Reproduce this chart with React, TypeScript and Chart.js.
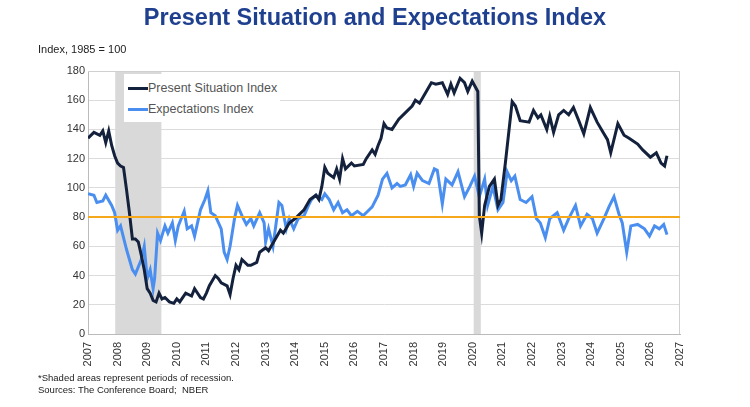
import React, { useEffect, useRef } from "react";
import { Chart, registerables } from "chart.js";
Chart.register(...registerables);

const psiX = [2007.0,2007.2,2007.4,2007.5,2007.6,2007.7,2007.8,2007.9,2008.0,2008.1,2008.2,2008.3,2008.4,2008.5,2008.6,2008.7,2008.8,2008.9,2009.0,2009.1,2009.2,2009.3,2009.4,2009.5,2009.6,2009.75,2009.9,2010.0,2010.1,2010.3,2010.5,2010.6,2010.8,2010.9,2011.0,2011.1,2011.3,2011.4,2011.5,2011.7,2011.8,2011.9,2012.0,2012.1,2012.2,2012.4,2012.5,2012.7,2012.8,2013.0,2013.1,2013.3,2013.5,2013.6,2013.8,2014.0,2014.1,2014.3,2014.5,2014.7,2014.8,2014.9,2015.0,2015.1,2015.3,2015.4,2015.5,2015.6,2015.7,2015.9,2016.0,2016.3,2016.4,2016.6,2016.7,2016.8,2016.9,2017.0,2017.1,2017.27,2017.5,2017.7,2017.95,2018.06,2018.2,2018.4,2018.6,2018.75,2018.97,2019.15,2019.26,2019.37,2019.57,2019.72,2019.83,2019.98,2020.17,2020.22,2020.3,2020.4,2020.56,2020.73,2020.85,2020.95,2021.1,2021.33,2021.44,2021.6,2021.9,2022.05,2022.2,2022.3,2022.5,2022.6,2022.73,2022.9,2023.07,2023.24,2023.4,2023.58,2023.75,2023.97,2024.2,2024.43,2024.55,2024.66,2024.9,2025.11,2025.28,2025.57,2025.74,2026.0,2026.2,2026.36,2026.48,2026.56];
const psiY = [134,138,136,139,131,139,129,122,117,115,114,99,83,65,65,63,54,44,31,28,23,22,28,24,25,22,21,24,22,28,26,31,25,24,28,33,40,38,35,33,27,38,47,44,51,47,47,49,56,59,57,64,71,69,76,79,81,85,92,95,92,101,114,110,107,113,106,120,113,117,115,116,120,126,123,129,134,144,141,140,147,151,156,160,158,165,172,171,172,164,171,165,175,172,166,173,166,81,69,88,101,106,88,92,117,159,156,146,145,153,148,150,140,149,138,150,153,150,155,146,137,155,145,137,133,124,144,136,134,130,126,121,124,117,115,122];

const expX = [2007.0,2007.2,2007.3,2007.5,2007.6,2007.8,2007.9,2008.0,2008.1,2008.3,2008.4,2008.5,2008.6,2008.8,2008.9,2009.0,2009.1,2009.2,2009.25,2009.35,2009.45,2009.6,2009.7,2009.85,2009.95,2010.05,2010.25,2010.35,2010.5,2010.6,2010.8,2010.95,2011.05,2011.15,2011.3,2011.5,2011.6,2011.7,2011.8,2011.95,2012.05,2012.2,2012.35,2012.5,2012.6,2012.8,2012.95,2013.0,2013.1,2013.25,2013.45,2013.55,2013.7,2013.8,2013.95,2014.1,2014.3,2014.45,2014.55,2014.7,2014.9,2015.0,2015.15,2015.3,2015.45,2015.6,2015.75,2015.9,2016.1,2016.3,2016.45,2016.6,2016.8,2016.95,2017.1,2017.27,2017.44,2017.55,2017.72,2017.9,2018.0,2018.12,2018.3,2018.52,2018.7,2018.8,2018.97,2019.09,2019.3,2019.5,2019.72,2019.9,2020.06,2020.22,2020.4,2020.5,2020.68,2020.85,2021.02,2021.16,2021.3,2021.42,2021.6,2021.8,2022.0,2022.15,2022.28,2022.45,2022.6,2022.85,2023.07,2023.24,2023.47,2023.64,2023.86,2024.04,2024.2,2024.43,2024.6,2024.77,2024.94,2025.05,2025.2,2025.34,2025.57,2025.8,2025.97,2026.14,2026.3,2026.45,2026.56];
const expY = [96,95,90,91,95,88,83,71,74,58,51,44,41,51,60,38,44,31,38,69,64,74,69,76,64,74,84,72,74,67,85,92,98,83,81,72,56,51,60,79,88,81,75,79,74,83,76,63,72,60,90,88,72,79,72,79,81,88,92,95,92,96,92,85,90,83,85,81,84,81,84,87,95,106,110,100,103,101,102,109,101,110,105,103,113,112,89,106,102,111,94,101,108,94,106,88,101,85,90,111,105,108,92,90,94,79,76,66,79,83,71,79,88,74,82,79,69,79,87,94,82,76,56,74,75,72,67,74,72,75,68];

const recessions = [[2007.92, 2009.48], [2020.03, 2020.27]];
const refLevel = 80;

const font = "'Liberation Sans', Arial, sans-serif";

export default function App() {
  const ref = useRef<HTMLCanvasElement>(null);
  useEffect(() => {
    const bg = {
      id: "bg",
      beforeDatasetsDraw(c: any) {
        const { ctx, chartArea: a, scales } = c;
        ctx.save();
        ctx.fillStyle = "#d9d9d9";
        for (const [s, e] of recessions) {
          const x1 = scales.x.getPixelForValue(s), x2 = scales.x.getPixelForValue(e);
          ctx.fillRect(x1, a.top, x2 - x1, a.bottom - a.top);
        }
        ctx.strokeStyle = "#d0d0d0";
        ctx.lineWidth = 1;
        ctx.beginPath();
        ctx.moveTo(a.left, a.top + 0.5); ctx.lineTo(a.right - 0.5, a.top + 0.5); ctx.lineTo(a.right - 0.5, a.bottom);
        ctx.stroke();
        ctx.restore();
      },
    };
    const chart = new Chart(ref.current!, {
      type: "line",
      data: {
        datasets: [
          { label: "Present Situation Index", data: psiX.map((x, i) => ({ x, y: psiY[i] })), borderColor: "#14213d", borderWidth: 3, pointRadius: 0, tension: 0, order: 1 },
          { label: "Expectations Index", data: expX.map((x, i) => ({ x, y: expY[i] })), borderColor: "#4a8ff0", borderWidth: 3, pointRadius: 0, tension: 0, order: 2 },
          { label: "ref", data: [{ x: 2007, y: refLevel }, { x: 2027, y: refLevel }], borderColor: "#f5a81c", borderWidth: 2, pointRadius: 0, order: 0 },
        ],
      },
      options: {
        animation: false,
        responsive: false,
        layout: { padding: { left: 40, right: 70, top: 71, bottom: 34 } },
        plugins: { legend: { display: false }, tooltip: { enabled: false } },
        scales: {
          x: {
            type: "linear", min: 2007, max: 2027,
            afterFit: (s: any) => { s.height = 39; },
            ticks: { stepSize: 1, minRotation: 90, maxRotation: 90, color: "#333", font: { family: font, size: 11 }, callback: (v: any) => String(v) },
            grid: { display: false, drawTicks: true, tickLength: 5, color: "#bbb" },
            border: { color: "#bbb" },
          },
          y: {
            min: 0, max: 180,
            afterFit: (s: any) => { s.width = 48; },
            ticks: { stepSize: 20, color: "#333", font: { family: font, size: 11 } },
            grid: { color: "#dcdcdc", drawTicks: false },
            border: { color: "#bbb" },
          },
        },
      },
      plugins: [bg],
    });
    return () => chart.destroy();
  }, []);
  const t: React.CSSProperties = { position: "absolute", fontFamily: font, color: "#222" };
  return (
    <div style={{ position: "fixed", left: 0, top: 0, width: 750, height: 407, background: "#fff" }}>
      <canvas ref={ref} width={750} height={407} style={{ position: "absolute", left: 0, top: 0 }} />
      <div style={{ ...t, top: 4, left: 0, width: 750, textAlign: "center", fontSize: 23.5, fontWeight: "bold", color: "#1f3f8f" }}>Present Situation and Expectations Index</div>
      <div style={{ ...t, top: 43, left: 38, fontSize: 11 }}>Index, 1985 = 100</div>
      <div style={{ position: "absolute", left: 124, top: 74, width: 156, height: 48, background: "#fff", fontFamily: font, fontSize: 12.5, color: "#555" }}>
        <div style={{ display: "flex", alignItems: "center", height: 22, marginTop: 3 }}>
          <span style={{ display: "inline-block", width: 20, height: 3, background: "#14213d", marginLeft: 4 }} />Present Situation Index
        </div>
        <div style={{ display: "flex", alignItems: "center", height: 20 }}>
          <span style={{ display: "inline-block", width: 20, height: 3, background: "#4a8ff0", marginLeft: 4 }} />Expectations Index
        </div>
      </div>
      <div style={{ ...t, top: 372, left: 38, fontSize: 9.5, lineHeight: "12px" }}>*Shaded areas represent periods of recession.<br />Sources: The Conference Board;&nbsp; NBER</div>
    </div>
  );
}
